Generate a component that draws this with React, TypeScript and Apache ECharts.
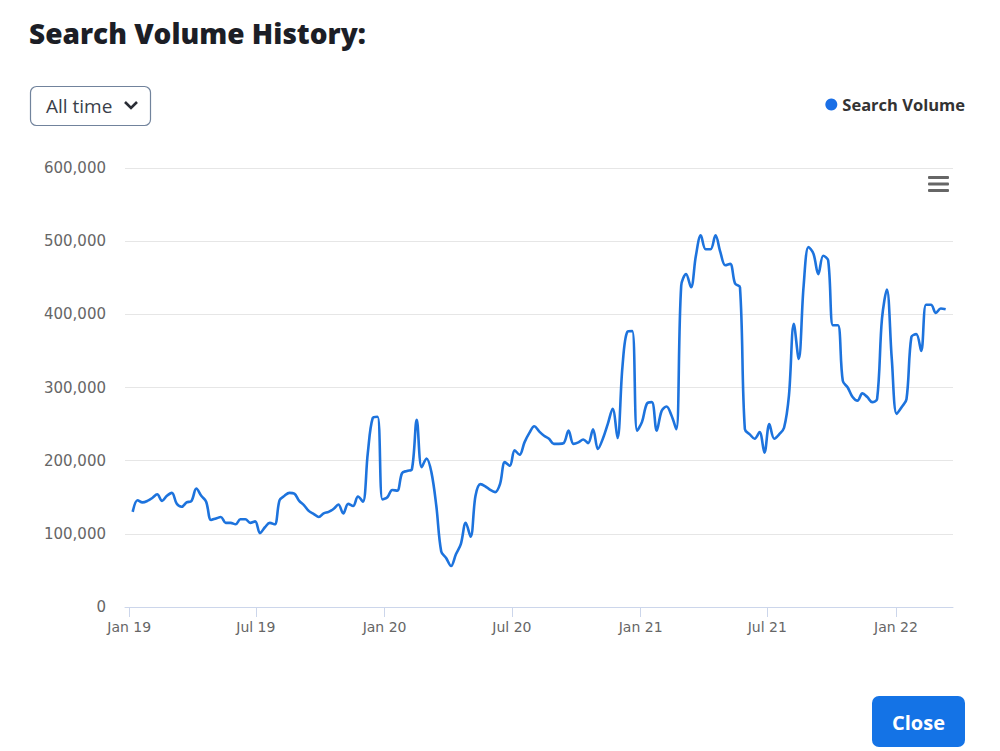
import React, { useEffect, useRef } from "react";
import * as echarts from "echarts";

// Weekly search volume, one array per calendar year (weeks starting on Sundays)
const firstWeek = Date.UTC(2019, 0, 6);
const vol2019 = [
  130000, 146000, 143000, 145000, 149000, 154000, 145000, 152000, 156000, 141000,
  137000, 143000, 145000, 162000, 152000, 144000, 119000, 121000, 123000, 115000,
  115000, 113000, 120000, 120000, 115000, 117000, 101000, 109000, 115000, 113000,
  146000, 152000, 156000, 155000, 145000, 139000, 131000, 127000, 123000, 128000,
  130000, 134000, 140000, 128000, 141000, 138000, 151000, 144000, 210000, 258000,
  260000, 147000,
];
const vol2020 = [
  150000, 160000, 159000, 183000, 186000, 188000, 256000, 191000, 203000, 184000,
  138000, 76000, 67000, 56000, 72000, 86000, 115000, 96000, 152000, 168000,
  165000, 160000, 157000, 168000, 198000, 193000, 214000, 208000, 225000, 238000,
  247000, 240000, 234000, 230000, 223000, 223000, 224000, 241000, 223000, 225000,
  229000, 224000, 243000, 216000, 230000, 250000, 271000, 231000, 328000, 376000,
  377000, 241000,
];
const vol2021 = [
  253000, 278000, 280000, 241000, 268000, 274000, 262000, 243000, 439000, 455000,
  437000, 480000, 508000, 489000, 489000, 508000, 485000, 467000, 469000, 442000,
  437000, 243000, 236000, 230000, 239000, 211000, 250000, 230000, 236000, 245000,
  289000, 387000, 339000, 439000, 492000, 483000, 455000, 480000, 474000, 385000,
  385000, 309000, 300000, 287000, 282000, 292000, 287000, 280000, 284000, 394000,
  434000, 339000,
];
const vol2022 = [
  264000, 273000, 284000, 369000, 373000, 350000, 413000, 413000, 402000, 408000,
  407000,
];

const yTicks = [0, 100000, 200000, 300000, 400000, 500000, 600000];
const xTickDates = [
  Date.UTC(2019, 0, 1), Date.UTC(2019, 6, 1), Date.UTC(2020, 0, 1), Date.UTC(2020, 6, 1),
  Date.UTC(2021, 0, 1), Date.UTC(2021, 6, 1), Date.UTC(2022, 0, 1),
];
const monthNames = ["Jan", "Feb", "Mar", "Apr", "May", "Jun", "Jul", "Aug", "Sep", "Oct", "Nov", "Dec"];

export default function App() {
  const ref = useRef<HTMLDivElement>(null);
  useEffect(() => {
    if (!ref.current) return;
    const chart = echarts.init(ref.current, undefined, { renderer: "svg" });
    const values = [...vol2019, ...vol2020, ...vol2021, ...vol2022];
    const week = 7 * 24 * 3600 * 1000;
    const data = values.map((v, i) => [firstWeek + i * week, v]);
    const axisFont = "'DejaVu Sans', sans-serif";
    chart.setOption({
      animation: false,
      backgroundColor: "#ffffff",
      grid: { left: 125, right: 47, top: 168, bottom: 144 },
      legend: {
        data: ["Search Volume"],
        icon: "circle",
        itemWidth: 12,
        itemHeight: 12,
        itemGap: 10,
        right: 30,
        top: 91,
        textStyle: { fontFamily: "'Open Sans', sans-serif", fontWeight: "bold", fontSize: 16.5, color: "#333333" },
      },
      xAxis: {
        type: "value",
        min: Date.UTC(2018, 11, 26),
        max: Date.UTC(2022, 2, 23, 12),
        axisLine: { show: true, lineStyle: { color: "#ccd6eb", width: 1 } },
        axisTick: { show: true, length: 10, lineStyle: { color: "#ccd6eb" }, customValues: xTickDates },
        splitLine: { show: false },
        axisLabel: {
          customValues: xTickDates,
          margin: 13,
          fontFamily: axisFont,
          fontSize: 14,
          color: "#666666",
          formatter: (v: number) => {
            const d = new Date(v);
            return monthNames[d.getUTCMonth()] + " " + String(d.getUTCFullYear()).slice(2);
          },
        },
      },
      yAxis: {
        type: "value",
        min: 0,
        max: 600000,
        interval: 100000,
        axisLine: { show: false },
        axisTick: { show: false },
        splitLine: { lineStyle: { color: "#e6e6e6", width: 1 } },
        axisLabel: {
          margin: 19,
          fontFamily: axisFont,
          fontSize: 15,
          color: "#666666",
          formatter: (v: number) => (yTicks.includes(v) ? v.toLocaleString("en-US") : ""),
        },
      },
      series: [
        {
          name: "Search Volume",
          type: "line",
          data,
          smooth: 0.35,
          symbol: "none",
          itemStyle: { color: "#1a6fe6" },
          lineStyle: { color: "#1d73dd", width: 2.6 },
        },
      ],
      graphic: [
        {
          type: "text",
          left: 29,
          top: 19,
          style: {
            text: "Search Volume History:",
            fontFamily: "'Open Sans', sans-serif",
            fontWeight: 800,
            fontSize: 28,
            fill: "#1c1e26",
          },
        },
        {
          type: "rect",
          shape: { x: 30.5, y: 86.5, width: 120, height: 39, r: 6 },
          style: { fill: "#ffffff", stroke: "#71839c", lineWidth: 1.2 },
        },
        {
          type: "text",
          x: 46,
          y: 106,
          style: {
            text: "All time",
            fontFamily: "'Open Sans', sans-serif",
            fontSize: 19,
            fill: "#3a3f4a",
            verticalAlign: "middle",
          },
        },
        {
          type: "polyline",
          shape: { points: [[125, 102], [131, 108], [137, 102]] },
          style: { stroke: "#2a2d35", lineWidth: 2.6, fill: null },
        },
        { type: "rect", shape: { x: 928, y: 176, width: 21, height: 3, r: 1 }, style: { fill: "#666666" } },
        { type: "rect", shape: { x: 928, y: 182.5, width: 21, height: 3, r: 1 }, style: { fill: "#666666" } },
        { type: "rect", shape: { x: 928, y: 189, width: 21, height: 3, r: 1 }, style: { fill: "#666666" } },
        {
          type: "rect",
          shape: { x: 872, y: 696, width: 93, height: 51, r: 7 },
          style: { fill: "#1473e6" },
        },
        {
          type: "text",
          x: 918.5,
          y: 722,
          style: {
            text: "Close",
            fontFamily: "'Open Sans', sans-serif",
            fontWeight: "bold",
            fontSize: 20,
            fill: "#ffffff",
            align: "center",
            verticalAlign: "middle",
          },
        },
      ],
    });
    return () => chart.dispose();
  }, []);
  return (
    <div
      ref={ref}
      style={{ position: "fixed", left: 0, top: 0, width: 1000, height: 751, background: "#ffffff" }}
    />
  );
}
